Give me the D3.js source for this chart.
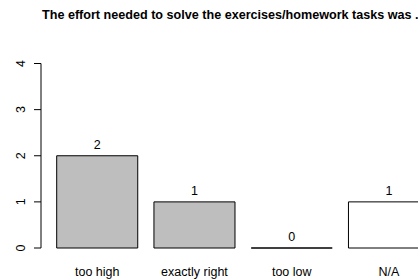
<!DOCTYPE html>
<html>
<head>
<meta charset="utf-8">
<script src="https://cdn.jsdelivr.net/npm/d3@7"></script>
<style>
  body { margin: 0; background: #fff; }
  svg { display: block; font-family: "Liberation Sans", Arial, sans-serif; }
</style>
</head>
<body>
<div id="chart"></div>
<script>
const width = 418;
const height = 279;

const title = "The effort needed to solve the exercises/homework tasks was ...";
const categories = ["too high", "exactly right", "too low", "N/A"];
const counts = [2, 1, 0, 1];
const fills = ["#bebebe", "#bebebe", "#bebebe", "#ffffff"];
const yTicks = [0, 1, 2, 3, 4];

const svg = d3.select("#chart").append("svg")
    .attr("width", width)
    .attr("height", height);

const x = d3.scaleBand()
    .domain(categories)
    .range([56.7, 429.5])
    .paddingInner(1 / 6)
    .paddingOuter(0);

const y = d3.scaleLinear()
    .domain([0, 4])
    .range([248, 63.5]);

// title
svg.append("text")
    .attr("x", 42)
    .attr("y", 19)
    .attr("font-size", "12.6px")
    .attr("font-weight", "bold")
    .text(title);

// y axis
const yAxis = svg.append("g");
yAxis.append("line")
    .attr("x1", 41).attr("x2", 41)
    .attr("y1", y(0)).attr("y2", y(4))
    .attr("stroke", "#000");
yAxis.selectAll(".tick")
    .data(yTicks)
    .enter().append("line")
    .attr("x1", 34).attr("x2", 41)
    .attr("y1", d => y(d)).attr("y2", d => y(d))
    .attr("stroke", "#000");
yAxis.selectAll(".tick-label")
    .data(yTicks)
    .enter().append("text")
    .attr("transform", d => `translate(25,${y(d)}) rotate(-90)`)
    .attr("text-anchor", "middle")
    .attr("font-size", "12.5px")
    .text(d => d);

// bars (paths so a zero count still shows its outline)
svg.selectAll(".bar")
    .data(counts)
    .enter().append("path")
    .attr("d", (d, i) => {
        const x0 = x(categories[i]), x1 = x0 + x.bandwidth();
        return `M${x0},${y(0)}H${x1}V${y(d)}H${x0}Z`;
    })
    .attr("fill", (d, i) => fills[i])
    .attr("stroke", "#000")
    .attr("stroke-width", 1);

// value labels
svg.selectAll(".val")
    .data(counts)
    .enter().append("text")
    .attr("x", (d, i) => x(categories[i]) + x.bandwidth() / 2)
    .attr("y", d => y(d) - 7)
    .attr("text-anchor", "middle")
    .attr("font-size", "12.5px")
    .text(d => d);

// category labels
svg.selectAll(".cat")
    .data(categories)
    .enter().append("text")
    .attr("x", d => x(d) + x.bandwidth() / 2)
    .attr("y", 276)
    .attr("text-anchor", "middle")
    .attr("font-size", "12.5px")
    .text(d => d);
</script>
</body>
</html>
